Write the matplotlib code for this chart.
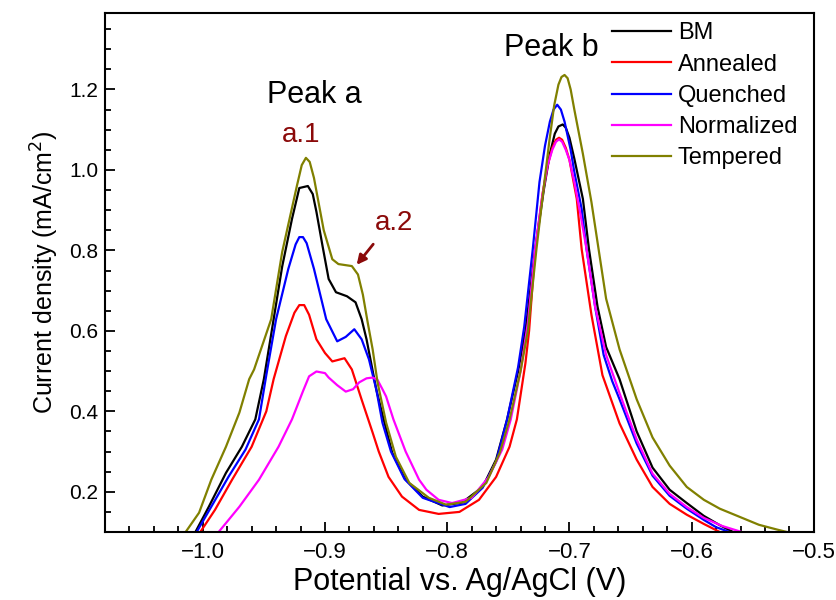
import matplotlib.pyplot as plt
from matplotlib.ticker import MultipleLocator

plt.rcParams['font.family'] = ['Liberation Sans', 'DejaVu Sans']

# Linear sweep data (potential V, current density mA/cm2)
bm_x = [-1.006, -0.995, -0.981, -0.968, -0.957, -0.950, -0.942, -0.935, -0.927, -0.921, -0.914,
        -0.910, -0.907, -0.902, -0.897, -0.891, -0.882, -0.875, -0.870, -0.866, -0.858, -0.852,
        -0.845, -0.834, -0.820, -0.804, -0.788, -0.771, -0.760, -0.751, -0.742, -0.736, -0.728,
        -0.721, -0.716, -0.712, -0.709, -0.7055, -0.703, -0.700, -0.696, -0.689, -0.684, -0.677,
        -0.670, -0.659, -0.645, -0.632, -0.618, -0.604, -0.590, -0.577, -0.566]
bm_y = [0.100, 0.163, 0.247, 0.312, 0.380, 0.480, 0.629, 0.760, 0.878, 0.955, 0.960,
        0.940, 0.896, 0.811, 0.729, 0.696, 0.686, 0.671, 0.629, 0.579, 0.454, 0.380,
        0.297, 0.230, 0.188, 0.166, 0.173, 0.212, 0.280, 0.380, 0.500, 0.600, 0.803,
        0.950, 1.040, 1.090, 1.108, 1.113, 1.105, 1.080, 1.028, 0.928, 0.803, 0.660,
        0.560, 0.480, 0.350, 0.260, 0.205, 0.172, 0.140, 0.117, 0.100]

annealed_x = [-1.002, -0.990, -0.976, -0.960, -0.948, -0.942, -0.932, -0.925, -0.921, -0.917,
              -0.913, -0.907, -0.900, -0.894, -0.889, -0.884, -0.878, -0.870, -0.861, -0.856,
              -0.848, -0.837, -0.823, -0.807, -0.790, -0.774, -0.760, -0.749, -0.743, -0.736,
              -0.733, -0.728, -0.722, -0.718, -0.714, -0.711, -0.7085, -0.706, -0.703, -0.700,
              -0.694, -0.690, -0.682, -0.673, -0.659, -0.645, -0.632, -0.618, -0.604, -0.590,
              -0.577]
annealed_y = [0.100, 0.155, 0.230, 0.312, 0.400, 0.480, 0.587, 0.645, 0.664, 0.664,
              0.640, 0.579, 0.545, 0.524, 0.528, 0.532, 0.504, 0.429, 0.347, 0.300,
              0.237, 0.188, 0.155, 0.145, 0.150, 0.180, 0.237, 0.312, 0.380, 0.520,
              0.600, 0.803, 0.940, 1.010, 1.055, 1.075, 1.080, 1.075, 1.055, 1.025,
              0.928, 0.803, 0.640, 0.490, 0.370, 0.280, 0.212, 0.170, 0.143, 0.120,
              0.100]

quenched_x = [-1.005, -0.993, -0.979, -0.965, -0.954, -0.948, -0.940, -0.930, -0.924, -0.921,
              -0.918, -0.915, -0.909, -0.899, -0.890, -0.883, -0.876, -0.870, -0.864, -0.858,
              -0.853, -0.846, -0.835, -0.820, -0.798, -0.785, -0.771, -0.760, -0.751, -0.742,
              -0.737, -0.730, -0.7245, -0.720, -0.716, -0.713, -0.710, -0.707, -0.704, -0.702,
              -0.699, -0.696, -0.690, -0.686, -0.679, -0.672, -0.665, -0.659, -0.645, -0.632,
              -0.618, -0.604, -0.590, -0.580, -0.569]
quenched_y = [0.100, 0.163, 0.237, 0.305, 0.380, 0.490, 0.629, 0.754, 0.815, 0.833,
              0.833, 0.818, 0.754, 0.629, 0.574, 0.585, 0.604, 0.579, 0.529, 0.454,
              0.372, 0.300, 0.232, 0.185, 0.162, 0.170, 0.210, 0.275, 0.380, 0.510,
              0.610, 0.803, 0.970, 1.060, 1.120, 1.150, 1.162, 1.150, 1.120, 1.092,
              1.050, 0.995, 0.903, 0.803, 0.660, 0.540, 0.475, 0.430, 0.320, 0.240,
              0.190, 0.158, 0.130, 0.112, 0.100]

normalized_x = [-0.987, -0.970, -0.954, -0.938, -0.927, -0.918, -0.913, -0.907, -0.900, -0.897,
                -0.890, -0.883, -0.877, -0.872, -0.866, -0.861, -0.857, -0.853, -0.850, -0.844,
                -0.834, -0.823, -0.817, -0.807, -0.796, -0.780, -0.766, -0.755, -0.748, -0.740,
                -0.734, -0.728, -0.722, -0.718, -0.714, -0.711, -0.7085, -0.706, -0.703, -0.700,
                -0.696, -0.691, -0.686, -0.679, -0.670, -0.659, -0.645, -0.632, -0.618, -0.604,
                -0.590, -0.575, -0.559]
normalized_y = [0.100, 0.163, 0.230, 0.312, 0.380, 0.450, 0.487, 0.499, 0.495, 0.484,
                0.465, 0.449, 0.455, 0.472, 0.482, 0.484, 0.478, 0.455, 0.437, 0.380,
                0.300, 0.230, 0.205, 0.180, 0.172, 0.185, 0.237, 0.305, 0.380, 0.500,
                0.620, 0.803, 0.940, 1.010, 1.050, 1.070, 1.076, 1.070, 1.050, 1.025,
                0.970, 0.890, 0.803, 0.660, 0.540, 0.445, 0.330, 0.245, 0.195, 0.162,
                0.135, 0.115, 0.100]

tempered_x = [-1.014, -1.003, -0.993, -0.981, -0.970, -0.962, -0.958, -0.944, -0.935, -0.923,
              -0.919, -0.9156, -0.9125, -0.909, -0.905, -0.901, -0.894, -0.889, -0.878, -0.873,
              -0.869, -0.865, -0.861, -0.857, -0.850, -0.842, -0.831, -0.815, -0.801, -0.785,
              -0.768, -0.757, -0.749, -0.740, -0.734, -0.727, -0.7205, -0.7165, -0.7125, -0.709,
              -0.7065, -0.704, -0.7015, -0.699, -0.696, -0.6925, -0.689, -0.682, -0.676, -0.670,
              -0.659, -0.645, -0.632, -0.618, -0.604, -0.590, -0.577, -0.561, -0.545, -0.530,
              -0.522]
tempered_y = [0.100, 0.148, 0.230, 0.312, 0.397, 0.480, 0.504, 0.629, 0.796, 0.960,
              1.012, 1.030, 1.020, 0.980, 0.915, 0.850, 0.778, 0.766, 0.761, 0.740,
              0.690, 0.620, 0.554, 0.472, 0.372, 0.287, 0.222, 0.185, 0.168, 0.175,
              0.222, 0.297, 0.380, 0.500, 0.600, 0.803, 0.970, 1.070, 1.160, 1.212,
              1.231, 1.236, 1.228, 1.200, 1.150, 1.095, 1.040, 0.920, 0.800, 0.680,
              0.554, 0.430, 0.335, 0.265, 0.212, 0.180, 0.158, 0.138, 0.118, 0.106,
              0.100]

series = [
    ('BM', bm_x, bm_y, 'black'),
    ('Annealed', annealed_x, annealed_y, 'red'),
    ('Quenched', quenched_x, quenched_y, 'blue'),
    ('Normalized', normalized_x, normalized_y, 'magenta'),
    ('Tempered', tempered_x, tempered_y, '#808000'),
]

fig = plt.figure(figsize=(8.37, 6), dpi=100)
ax = fig.add_axes([0.1254, 0.1133, 0.847, 0.865])

for name, xs, ys, col in series:
    ax.plot(xs, ys, color=col, lw=1.6, label=name)

ax.set_xlim(-1.08, -0.5)
ax.set_ylim(0.1, 1.39)
ax.xaxis.set_major_locator(MultipleLocator(0.1))
ax.xaxis.set_minor_locator(MultipleLocator(0.02))
ax.yaxis.set_major_locator(MultipleLocator(0.2))
ax.yaxis.set_minor_locator(MultipleLocator(0.05))
ax.tick_params(which='both', direction='in', top=False, right=False, width=1.3)
ax.tick_params(which='major', length=7)
ax.tick_params(which='minor', length=4)
ax.tick_params(axis='x', labelsize=16, pad=7)
ax.tick_params(axis='y', labelsize=15, pad=5)
for s in ax.spines.values():
    s.set_linewidth(1.5)

ax.set_xlabel('Potential vs. Ag/AgCl (V)', fontsize=22, labelpad=3)
ax.set_ylabel('Current density (mA/cm$^2$)', fontsize=18, labelpad=6)

ax.text(-0.909, 1.186, 'Peak a', fontsize=22, ha='center', va='center')
ax.text(-0.715, 1.303, 'Peak b', fontsize=22, ha='center', va='center')
ax.text(-0.9193, 1.087, 'a.1', fontsize=20, color='#8B0A0A', ha='center', va='center')
ax.text(-0.8432, 0.868, 'a.2', fontsize=20, color='#8B0A0A', ha='center', va='center')
ax.annotate('', xy=(-0.8755, 0.7587), xytext=(-0.8591, 0.8208),
            arrowprops=dict(arrowstyle='-|>', color='#8B0A0A', lw=2, mutation_scale=14))

ax.legend(loc='upper left', bbox_to_anchor=(0.715, 0.982), frameon=False, fontsize=17,
          handlelength=2.5, handletextpad=0.3, labelspacing=0.39, borderpad=0, borderaxespad=0)

fig.savefig('out.png', dpi=100)
